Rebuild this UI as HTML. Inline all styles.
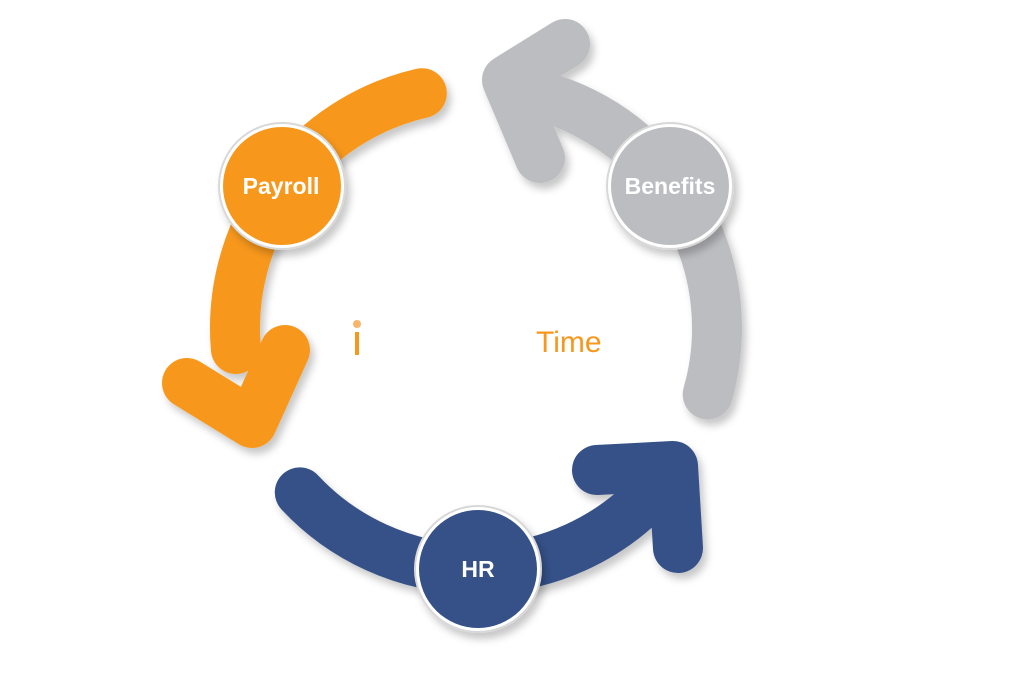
<!DOCTYPE html>
<html><head><style>
html,body{margin:0;padding:0;background:#fff;}
svg{display:block;}
text{font-family:"Liberation Sans",sans-serif;}
</style></head><body>
<svg width="1020" height="700" viewBox="0 0 1020 700">
<defs>
<filter id="sh" x="-20%" y="-20%" width="140%" height="140%">
<feDropShadow dx="4" dy="6" stdDeviation="4" flood-color="#000" flood-opacity="0.22"/>
</filter>
</defs>
<g fill="none" stroke-linecap="round" stroke-linejoin="round" stroke-width="50" filter="url(#sh)">
<g stroke="#F7981D">
<path d="M421.8 93.2 A241 241 0 0 0 235.9 349"/>
<path d="M187 383 L252 423 L285 350"/>
</g>
<g stroke="#BCBDC1">
<path d="M707.7 394.4 A241 241 0 0 0 542.5 96.4"/>
<path d="M565 44 L507 80 L540 158"/>
</g>
<g stroke="#345188">
<path d="M299.8 492.4 A241 241 0 0 0 652.2 492.4"/>
<path d="M597 470 L673 466 L678 548"/>
</g>
</g>
<g filter="url(#sh)">
<circle cx="282" cy="186" r="63" fill="#fff" stroke="#d8d8d8" stroke-width="2"/>
<circle cx="282" cy="186" r="59" fill="#F7981D"/>
<circle cx="670" cy="186" r="63" fill="#fff" stroke="#d8d8d8" stroke-width="2"/>
<circle cx="670" cy="186" r="59" fill="#BCBDC1"/>
<circle cx="478" cy="569" r="63" fill="#fff" stroke="#d8d8d8" stroke-width="2"/>
<circle cx="478" cy="569" r="59" fill="#345188"/>
</g>
<g fill="#fff" font-weight="bold" font-size="23" text-anchor="middle">
<text x="281" y="194">Payroll</text>
<text x="670" y="194">Benefits</text>
<text x="478" y="577">HR</text>
</g>
<circle cx="357" cy="324" r="4" fill="#F9B56A"/>
<rect x="355" y="332" width="4" height="23" fill="#F7981D"/>
<text x="536" y="352" font-size="30" fill="#F7981D">Time</text>
</svg>
</body></html>
